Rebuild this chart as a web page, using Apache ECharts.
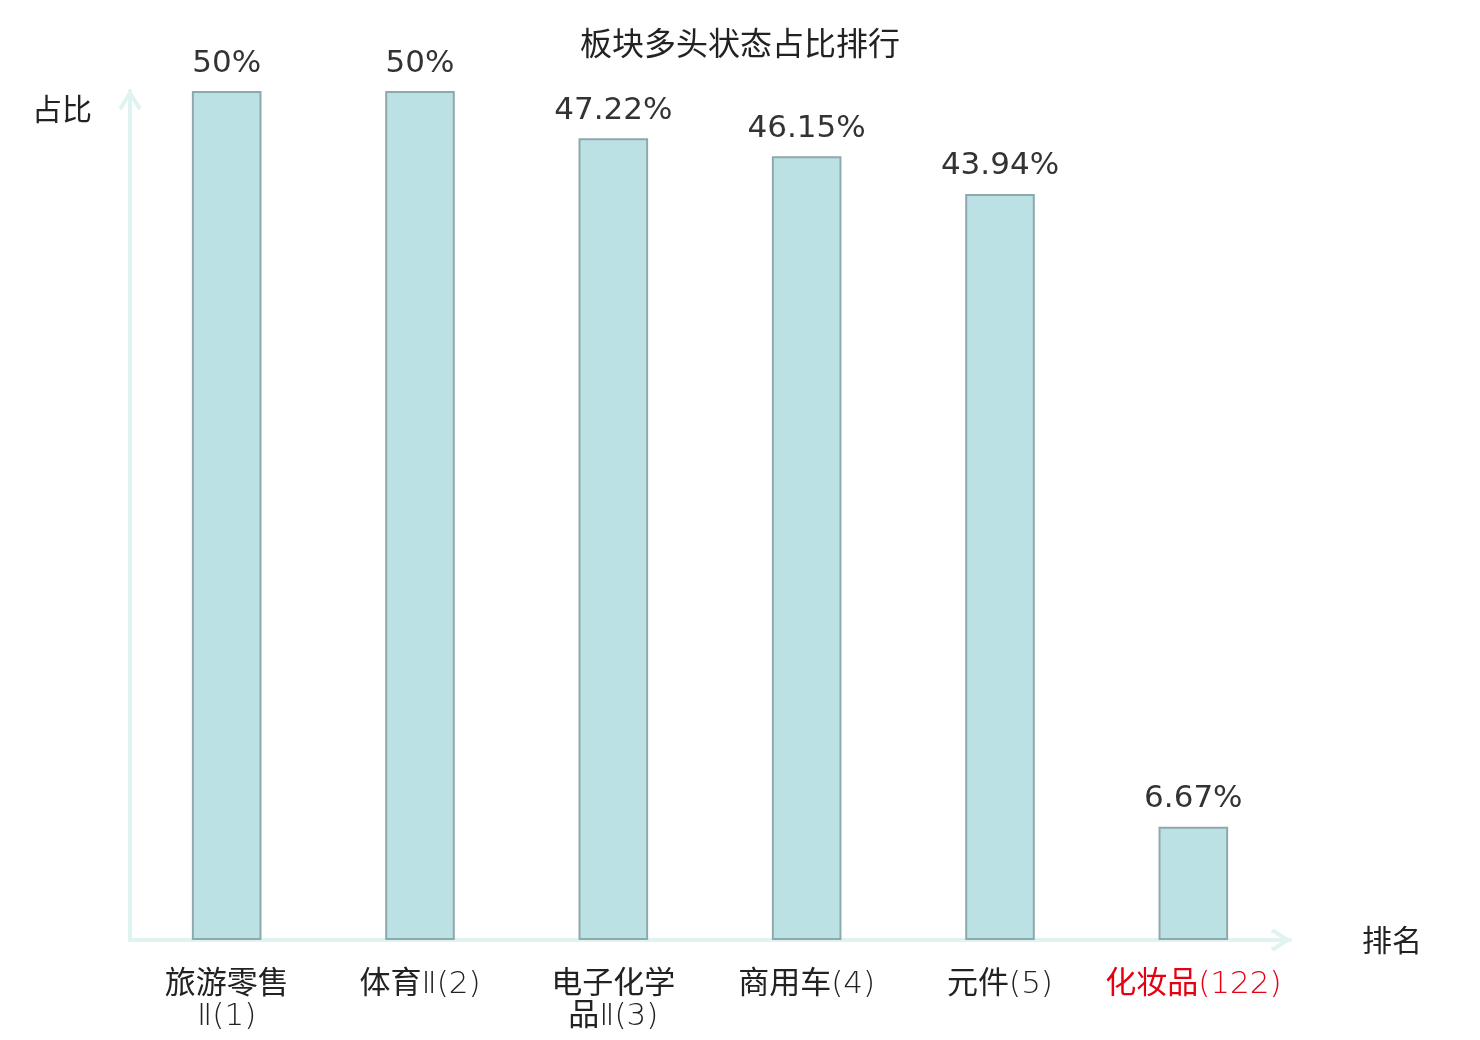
<!DOCTYPE html>
<html>
<head>
<meta charset="utf-8">
<title>板块多头状态占比排行</title>
<script src="https://cdn.jsdelivr.net/npm/echarts@6/dist/echarts.min.js"></script>
<style>
  html, body { margin: 0; padding: 0; background: #fff; }
  #chart { width: 1480px; height: 1040px; }
</style>
</head>
<body>
<div id="chart"></div>
<script>
// sector names, their rank, and share of bullish state (%)
const sectorNames = ['旅游零售Ⅱ', '体育Ⅱ', '电子化学品Ⅱ', '商用车', '元件', '化妆品']
const sectorRanks = [1, 2, 3, 4, 5, 122]
const shareValues = [50, 50, 47.22, 46.15, 43.94, 6.67]
const highlightIndex = 5 // the sector of interest, drawn in red

const categories = sectorNames.map((n, i) => n + '|' + sectorRanks[i])

// CJK chars get the regular CJK face, everything else the thin latin face
function styleRun(text, red) {
  let out = ''
  let run = ''
  let runCjk = null
  const flush = () => {
    if (!run) return
    const key = (runCjk ? 'c' : 'l') + (red ? 'r' : '')
    out += '{' + key + '|' + run + '}'
    run = ''
  }
  for (const ch of text) {
    const cjk = ch.charCodeAt(0) >= 0x4e00 && ch.charCodeAt(0) <= 0x9fff
    if (runCjk !== null && cjk !== runCjk) flush()
    runCjk = cjk
    run += ch
  }
  flush()
  return out
}

// wrap the name every 4 chars, then append the rank
function formatLabel(value, index) {
  const [name, rank] = value.split('|')
  const parts = []
  for (let i = 0; i < name.length; i += 4) parts.push(name.slice(i, i + 4))
  parts[parts.length - 1] += '(' + rank + ')'
  const red = index === highlightIndex
  return parts.map((p) => styleRun(p, red)).join('\n')
}

const chart = echarts.init(document.getElementById('chart'))

const axisColor = '#dff3f0'
const cjkFont = 'Noto Sans CJK SC'
const latinFont = "'DejaVu Sans', 'Noto Sans CJK SC'"
const textColor = '#222'
const redColor = '#e60012'

// open chevron arrow for the axis ends
const chevron = 'path://M11.5,0 L23,18 L19.8,21 L11.5,7 L3.2,21 L0,18 Z'
const axisLineStyle = {
  show: true,
  lineStyle: { color: axisColor, width: 4 },
  symbol: ['none', chevron],
  symbolSize: [23, 21],
  symbolOffset: [0, -9],
}

// CJK runs sit a little low next to the latin face, lift them a bit
const cjkRich = { fontFamily: cjkFont, fontSize: 31, lineHeight: 32, padding: [0, 0, 8, 0] }
const latinRich = { fontFamily: latinFont, fontWeight: 200, fontSize: 31, lineHeight: 32 }

const option = {
  title: {
    text: '板块多头状态占比排行',
    left: 'center',
    top: 22,
    textStyle: {
      fontFamily: cjkFont,
      fontSize: 32,
      fontWeight: 'normal',
      color: textColor,
    },
  },
  grid: {
    left: 130,
    right: 190,
    top: 91,
    bottom: 100,
  },
  xAxis: {
    type: 'category',
    data: categories,
    name: '排名',
    nameLocation: 'end',
    nameGap: 72,
    nameTextStyle: {
      fontFamily: cjkFont,
      fontSize: 30,
      color: textColor,
      verticalAlign: 'middle',
    },
    axisLine: axisLineStyle,
    axisTick: { show: false },
    axisLabel: {
      interval: 0,
      margin: 29,
      fontSize: 31,
      lineHeight: 32,
      color: textColor,
      formatter: formatLabel,
      rich: {
        c: { ...cjkRich, color: textColor },
        l: { ...latinRich, color: textColor },
        cr: { ...cjkRich, color: redColor },
        lr: { ...latinRich, color: redColor },
      },
    },
  },
  yAxis: {
    type: 'value',
    min: 0,
    max: 50,
    name: '占比',
    nameLocation: 'end',
    nameGap: -3,
    nameTextStyle: {
      fontFamily: cjkFont,
      fontSize: 30,
      color: textColor,
      align: 'right',
      verticalAlign: 'top',
      padding: [0, 38, 0, 0],
    },
    axisLine: axisLineStyle,
    axisTick: { show: false },
    axisLabel: { show: false },
    splitLine: { show: false },
  },
  series: [
    {
      type: 'bar',
      data: shareValues,
      barWidth: '36%',
      itemStyle: {
        color: '#bce1e4',
        borderColor: '#8ea9ab',
        borderWidth: 2,
      },
      label: {
        show: true,
        position: 'top',
        distance: 12,
        fontFamily: 'DejaVu Sans',
        fontSize: 31,
        color: '#333',
        formatter: (p) => p.value + '%',
      },
    },
  ],
}

chart.setOption(option)
</script>
</body>
</html>
